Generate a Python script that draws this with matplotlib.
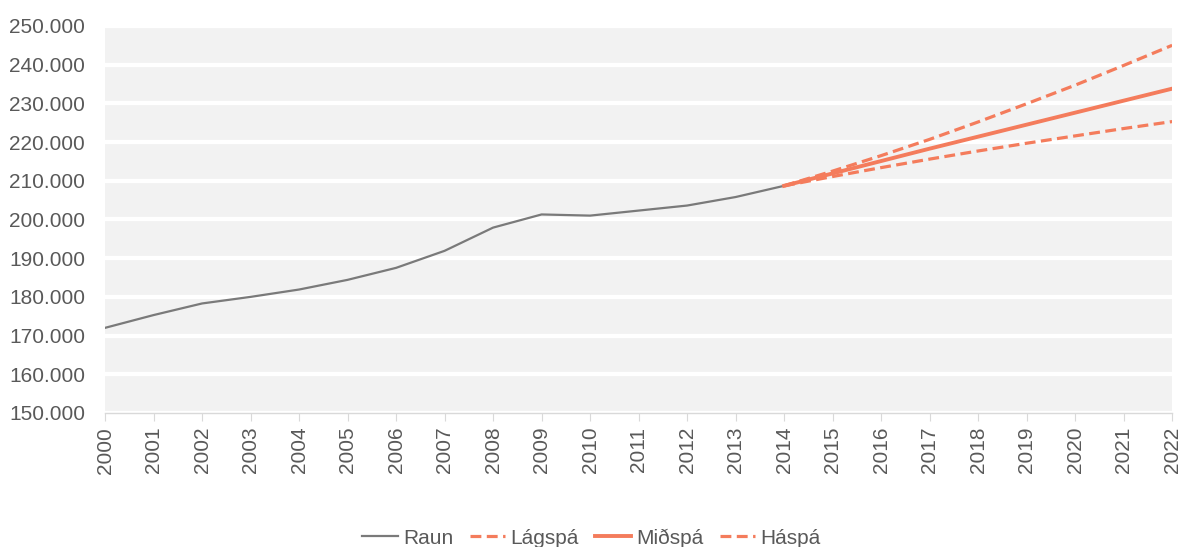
import matplotlib
matplotlib.use("Agg")
import matplotlib.pyplot as plt
from matplotlib.ticker import FuncFormatter

plt.rcParams['font.family'] = ['Liberation Sans', 'DejaVu Sans']

# actual values 2000-2014
years_raun = list(range(2000, 2015))
raun = [172000, 175300, 178300, 180000, 181900, 184400, 187500, 191900,
        197900, 201300, 201000, 202300, 203600, 205800, 208700]

# forecasts 2014-2022
years_spa = list(range(2014, 2023))
lagspa = [208700, 211100, 213400, 215600, 217700, 219700, 221600, 223500, 225300]
midspa = [208700, 211900, 215100, 218300, 221400, 224500, 227600, 230700, 233800]
haspa = [208700, 212500, 216500, 220700, 225200, 229900, 234700, 239800, 245000]

grey = '#7a7a7a'
orange = '#f47c5c'
txt = '#595959'

fig = plt.figure(figsize=(11.83, 5.47), dpi=100)
ax = fig.add_axes([0.0888, 0.245, 0.902, 0.7075])
ax.set_facecolor('#f2f2f2')

ax.plot(years_raun, raun, color=grey, lw=1.6, label='Raun', zorder=3)
ax.plot(years_spa, lagspa, color=orange, lw=2.3, dashes=(3.4, 1.7), label='Lágspá', zorder=4)
ax.plot(years_spa, midspa, color=orange, lw=2.8, label='Miðspá', zorder=4)
ax.plot(years_spa, haspa, color=orange, lw=2.3, dashes=(3.4, 1.7), label='Háspá', zorder=4)

ax.set_xlim(2000, 2022)
ax.set_ylim(150000, 250000)
ax.set_yticks(range(150000, 250001, 10000))
ax.yaxis.set_major_formatter(FuncFormatter(lambda v, p: f'{int(v):,}'.replace(',', '.')))
ax.set_xticks(range(2000, 2023))
ax.set_xticklabels([str(y) for y in range(2000, 2023)], rotation=90)

ax.grid(axis='y', color='white', lw=3)
ax.set_axisbelow(True)
for s in ['top', 'right', 'left']:
    ax.spines[s].set_visible(False)
ax.spines['bottom'].set_color('#d9d9d9')
ax.spines['bottom'].set_linewidth(1)
ax.tick_params(axis='y', length=0, labelsize=15, labelcolor=txt, pad=14.5)
ax.tick_params(axis='x', length=6, color='#d9d9d9', labelsize=15, labelcolor=txt, pad=4)

fig.legend(loc='center', bbox_to_anchor=(0.5, 0.0165), ncol=4, frameon=False,
           fontsize=15, labelcolor=txt, handlelength=1.7, handletextpad=0.25,
           columnspacing=0.8)

fig.savefig('out.png', dpi=100)
